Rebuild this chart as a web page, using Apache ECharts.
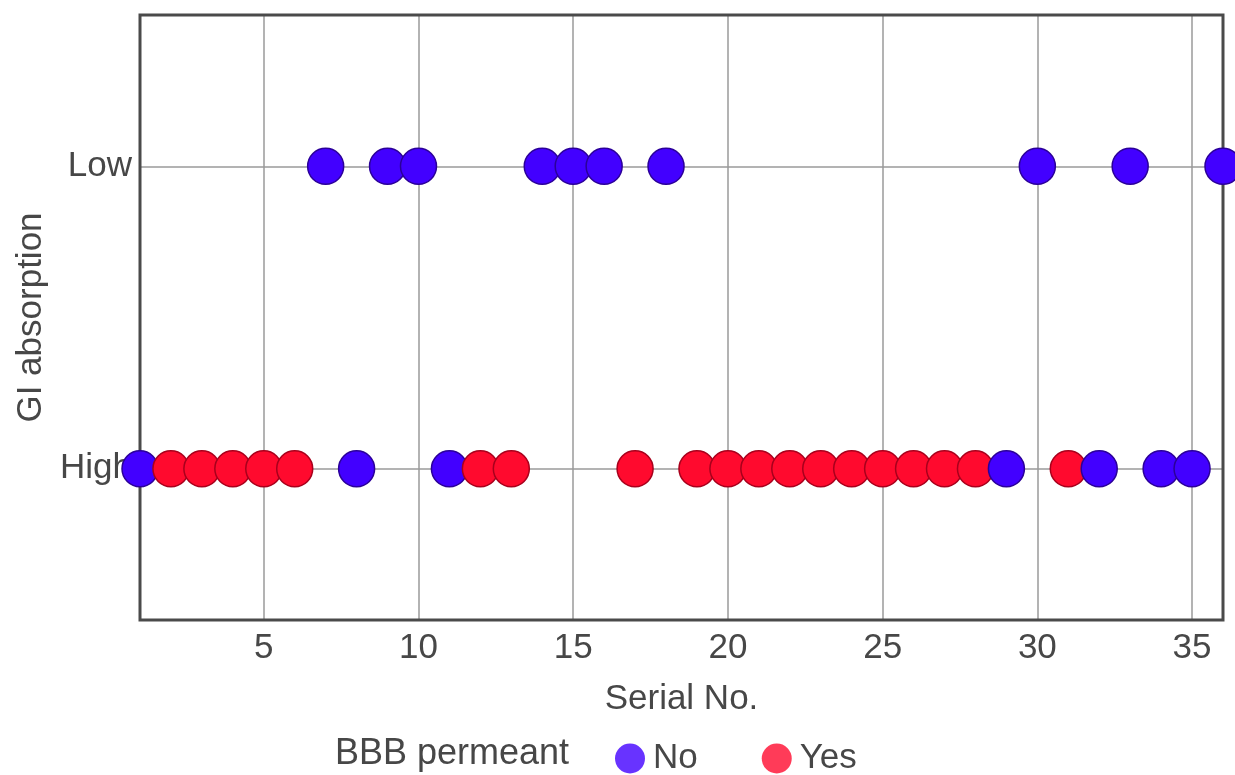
<!DOCTYPE html>
<html>
<head>
<meta charset="utf-8">
<script src="https://cdn.jsdelivr.net/npm/echarts@6/dist/echarts.min.js"></script>
<style>
html,body{margin:0;padding:0;background:#fff;}
#chart{width:1235px;height:775px;}
</style>
</head>
<body>
<div id="chart"></div>
<script>
// Data
const giLevels = ['High', 'Low'];
const serialNo = [1,2,3,4,5,6,7,8,9,10,11,12,13,14,15,16,17,18,19,20,21,22,23,24,25,26,27,28,29,30,31,32,33,36,34,35];
const giAbsorption = ['High','High','High','High','High','High','Low','High','Low','Low','High','High','High','Low','Low','Low','High','Low','High','High','High','High','High','High','High','High','High','High','High','Low','High','High','Low','Low','High','High'];
const bbbPermeant = ['No','Yes','Yes','Yes','Yes','Yes','No','No','No','No','No','Yes','Yes','No','No','No','Yes','No','Yes','Yes','Yes','Yes','Yes','Yes','Yes','Yes','Yes','Yes','No','No','Yes','No','No','No','No','No'];
const bbbCategories = ['No', 'Yes'];
const xTicks = [5, 10, 15, 20, 25, 30, 35];

const fillColor = { No: '#4200ff', Yes: '#ff0a2e' };
const edgeColor = { No: '#2b0099', Yes: '#a8001c' };

const points = serialNo.map((s, i) => ({
  value: [s, giLevels.indexOf(giAbsorption[i]) + 1],
  itemStyle: { color: fillColor[bbbPermeant[i]], borderColor: edgeColor[bbbPermeant[i]] }
}));

const font = 'Liberation Sans, Arial, sans-serif';
const txt = '#474747';

const chart = echarts.init(document.getElementById('chart'), null, { renderer: 'canvas' });
chart.setOption({
  animation: false,
  backgroundColor: '#fff',
  grid: { left: 140, right: 12, top: 15, bottom: 155, show: true, borderColor: '#4a4a4a', borderWidth: 3, backgroundColor: 'transparent', z: 3 },
  xAxis: {
    type: 'value', min: 1, max: 36, splitNumber: 7,
    name: 'Serial No.', nameLocation: 'middle', nameGap: 62,
    nameTextStyle: { fontSize: 35, color: txt, fontFamily: font },
    axisLine: { show: false }, axisTick: { show: false },
    axisLabel: { fontSize: 35, color: txt, fontFamily: font, margin: 11,
      formatter: v => xTicks.includes(v) ? String(v) : '' },
    splitLine: { show: true, showMinLine: false, showMaxLine: false, lineStyle: { color: '#9a9a9a', width: 1.5 } }
  },
  yAxis: {
    type: 'value', min: 0.5, max: 2.5, splitNumber: 2,
    name: 'GI absorption', nameLocation: 'middle', nameGap: 90,
    nameTextStyle: { fontSize: 35, color: txt, fontFamily: font },
    axisLine: { show: false }, axisTick: { show: false },
    axisLabel: { fontSize: 35, color: txt, fontFamily: font, margin: 8,
      formatter: v => (Number.isInteger(v) && giLevels[v - 1]) ? giLevels[v - 1] : '' },
    splitLine: { show: true, showMinLine: false, showMaxLine: false, lineStyle: { color: '#9a9a9a', width: 1.5 } }
  },
  legend: {
    data: bbbCategories, left: 610, top: 736, icon: 'circle',
    itemWidth: 30, itemHeight: 30, itemGap: 64,
    textStyle: { fontSize: 35, color: txt, fontFamily: font, padding: [0,0,0,3] }
  },
  graphic: [{
    type: 'text', left: 335, top: 736,
    style: { text: 'BBB permeant', fontSize: 36, fill: txt, fontFamily: font }
  }],
  series: [
    { name: 'No', type: 'scatter', data: [], itemStyle: { color: fillColor.No, borderColor: edgeColor.No } },
    { name: 'Yes', type: 'scatter', data: [], itemStyle: { color: fillColor.Yes, borderColor: edgeColor.Yes } },
    { name: 'points', type: 'scatter', symbolSize: 36, data: points,
      itemStyle: { borderWidth: 1.5, opacity: 1 }, z: 5 }
  ]
});
</script>
</body>
</html>
